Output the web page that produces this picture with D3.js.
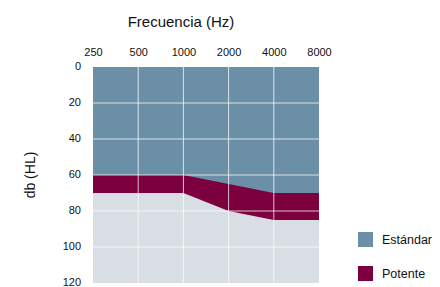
<!DOCTYPE html>
<html>
<head>
<meta charset="utf-8">
<script src="https://cdn.jsdelivr.net/npm/d3@7"></script>
<style>
  body { margin: 0; background: #fff; }
  text { font-family: "Liberation Sans", Arial, sans-serif; fill: #111; }
</style>
</head>
<body>
<svg id="chart" width="440" height="287"></svg>
<script>
// frequencies across the top
const freqs = ["250", "500", "1000", "2000", "4000", "8000"];
// db ticks on the left
const dbTicks = [0, 20, 40, 60, 80, 100, 120];
// bottom edge of each band, in db
const estandar = [60, 60, 60, 65, 70, 70];
const potente = [70, 70, 70, 80, 85, 85];
const legendItems = ["Estándar", "Potente"];

const colors = { "Estándar": "#6b8fa6", "Potente": "#7d003e" };

let svg = d3.select("#chart");
let plotL = 93, plotR = 319, plotT = 67, plotB = 283;

let x = d3.scalePoint().domain(freqs).range([plotL, plotR]);
let y = d3.scaleLinear().domain([0, 120]).range([plotT, plotB]);

// background
svg.append("rect")
  .attr("x", plotL).attr("y", plotT)
  .attr("width", plotR - plotL).attr("height", plotB - plotT)
  .attr("fill", "#d8dee3");

// potente band goes from 0 down to its line, estandar on top of it
let area = function(vals) {
  return d3.area()
    .x(function(d, i) { return x(freqs[i]); })
    .y0(y(0))
    .y1(function(d) { return y(d); })(vals);
};

svg.append("path").attr("d", area(potente)).attr("fill", colors["Potente"]);
svg.append("path").attr("d", area(estandar)).attr("fill", colors["Estándar"]);

// grid lines
let grid = svg.append("g").attr("stroke", "#fff").attr("stroke-opacity", 0.75).attr("stroke-width", 1);
freqs.slice(1, -1).forEach(function(f) {
  grid.append("line")
    .attr("x1", x(f)).attr("x2", x(f))
    .attr("y1", plotT).attr("y2", plotB);
});
dbTicks.slice(1, -1).forEach(function(t) {
  grid.append("line")
    .attr("x1", plotL).attr("x2", plotR)
    .attr("y1", y(t)).attr("y2", y(t));
});

// top axis labels
let xAxis = svg.append("g")
  .attr("transform", "translate(0," + (plotT - 11) + ")")
  .call(d3.axisTop(x).tickSize(0).tickPadding(0));
xAxis.select(".domain").remove();
xAxis.selectAll("text").attr("font-size", 11).attr("fill", "#111")
  .attr("font-family", "Liberation Sans, Arial, sans-serif");

// left axis labels
let yAxis = svg.append("g")
  .attr("transform", "translate(" + (plotL - 12) + ",0)")
  .call(d3.axisLeft(y).tickValues(dbTicks).tickSize(0).tickPadding(0));
yAxis.select(".domain").remove();
yAxis.selectAll("text").attr("font-size", 11).attr("fill", "#111")
  .attr("dy", "0.25em")
  .attr("font-family", "Liberation Sans, Arial, sans-serif");

// titles
svg.append("text")
  .attr("x", 181).attr("y", 27)
  .attr("text-anchor", "middle")
  .attr("font-size", 15)
  .text("Frecuencia (Hz)");

svg.append("text")
  .attr("transform", "translate(35,175) rotate(-90)")
  .attr("text-anchor", "middle")
  .attr("font-size", 14)
  .text("db (HL)");

// legend
let legend = svg.append("g").selectAll("g")
  .data(legendItems)
  .enter().append("g")
  .attr("transform", function(d, i) { return "translate(358," + (232 + i * 34) + ")"; });

legend.append("rect")
  .attr("width", 15).attr("height", 15)
  .attr("fill", function(d) { return colors[d]; });

legend.append("text")
  .attr("x", 24).attr("y", 12)
  .attr("font-size", 12.5)
  .text(function(d) { return d; });
</script>
</body>
</html>
